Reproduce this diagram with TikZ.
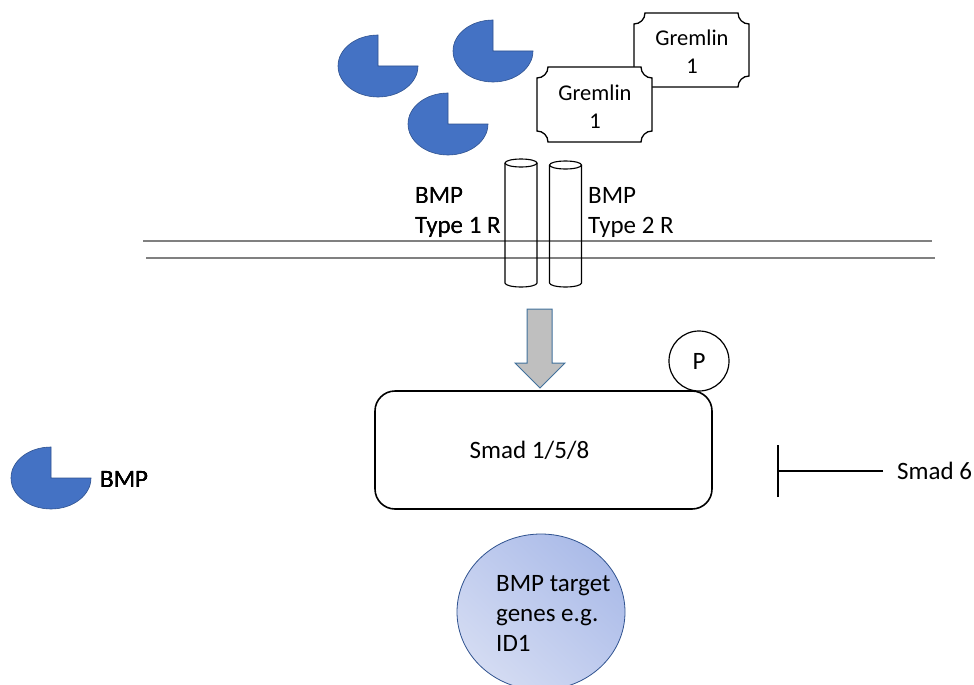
\documentclass[tikz,border=0pt]{standalone}
\usepackage{fontspec}
\setmainfont{Carlito}
\usepackage{xcolor}
\usepackage{tikz}
\usetikzlibrary{shapes,shadings,arrows.meta,positioning,calc}

\definecolor{bmpblue}{HTML}{4472C4}
\definecolor{bmpedge}{HTML}{2F528F}
\definecolor{arrowgray}{HTML}{BFBFBF}
\definecolor{arrowedge}{HTML}{41719C}
\definecolor{genelight}{HTML}{DCE2F4}
\definecolor{genedark}{HTML}{A3B5E6}
\definecolor{genemid}{HTML}{BFCBEE}

\tikzset{
    lbl/.style={font=\fontsize{25}{30}\selectfont, align=left, inner sep=0pt},
    gremlintext/.style={font=\fontsize{22.5}{28}\selectfont, align=center, inner sep=0pt},
    plaqueline/.style={draw=black, line width=1.3pt, fill=white},
    receptor/.style={draw=black, line width=1.1pt},
    membrane/.style={draw=black!50, line width=1.2pt},
    smadbox/.style={draw, line width=1.6pt, rounded corners=20pt, minimum width=337pt, minimum height=118pt},
    phos/.style={circle, draw, line width=1.2pt, minimum size=60pt, inner sep=0pt, font=\fontsize{25}{30}\selectfont},
    inhibit/.style={line width=1.5pt, -{Bar[width=52pt, line width=1.5pt]}, shorten <=14pt},
    genes/.style={ellipse, draw=bmpedge, line width=0.8pt, minimum width=168pt, minimum height=156pt,
        upper right=genedark, lower left=genelight, upper left=genemid, lower right=genemid}
}

% BMP ligand: ellipse with the upper right quarter cut out
\newcommand{\bmpligand}[2]{%
    \draw[fill=bmpblue, draw=bmpedge, line width=0.6pt] (#1,#2) -- (#1+40,#2)
        arc[start angle=0, end angle=270, x radius=40, y radius=31] -- cycle;}

% Gremlin box with concave corners
\newcommand{\plaque}[4]{%
    \path[plaqueline] (#1+11,#2) -- (#3-11,#2) arc[start angle=180, end angle=90, radius=11]
        -- (#3,#4-11) arc[start angle=270, end angle=180, radius=11]
        -- (#1+11,#4) arc[start angle=0, end angle=-90, radius=11]
        -- (#1,#2+11) arc[start angle=90, end angle=0, radius=11] -- cycle;}

% Receptor: open cylinder
\newcommand{\receptorcyl}[3]{%
    \draw[receptor] (#1-16,#2) -- (#1-16,#3) arc[start angle=180, end angle=0, x radius=16, y radius=4] -- (#1+16,#2);
    \draw[receptor] (#1,#2) ellipse[x radius=16, y radius=4];}

\begin{document}
\begin{tikzpicture}[x=1pt, y=-1pt]
    \useasboundingbox (0,0) rectangle (974,685);

    % Ligands
    \foreach \x/\y in {378/66, 493/51, 448/124, 51/478}
        \bmpligand{\x}{\y}
    \node[lbl, anchor=west] (bmplbl) at (100,479) {BMP};

    % Gremlin 1
    \plaque{634}{13}{749}{87}
    \node[gremlintext] (gremback) at (692,52) {Gremlin\\1};
    \plaque{537}{67}{652}{142}
    \node[gremlintext] (gremfront) at (595,107) {Gremlin\\1};

    % Membrane
    \draw[membrane] (143,241) -- (932,241);
    \draw[membrane] (146,258) -- (935,258);

    % Receptors
    \foreach \x/\t in {521/163, 565.5/165}
        \receptorcyl{\x}{\t}{283}
    \node[lbl, anchor=west] (type1) at (415,212) {BMP\\Type 1 R};
    \node[lbl, anchor=west] (type2) at (588,212) {BMP\\Type 2 R};

    % Signal arrow
    \draw[fill=arrowgray, draw=arrowedge, line width=1pt] (527,309) -- (552,309) -- (552,363) -- (565,363)
        -- (540,388) -- (515,363) -- (527,363) -- cycle;

    % Smad complex
    \node[smadbox] (smad) at (543.5,450) {};
    \node[lbl] (smadtxt) at ([xshift=-14pt]smad.center) {Smad 1/5/8};
    \node[phos] (p) at (699,361) {P};

    % Inhibitor
    \node[lbl, anchor=west] (smad6) at (897,471) {Smad 6};
    \coordinate (block) at (777,471);
    \draw[inhibit] (smad6) -- (block);

    % Target genes
    \node[genes] (target) at (541,612) {};
    \node[lbl, anchor=north west] (targettxt) at (496,575) {BMP target\\genes e.g.\\ID1};
\end{tikzpicture}
\end{document}
